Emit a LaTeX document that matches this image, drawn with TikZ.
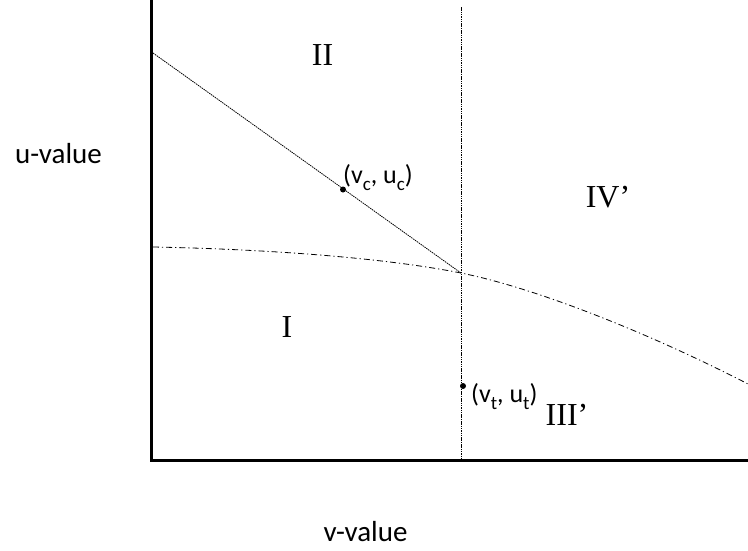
\documentclass[tikz,border=0pt]{standalone}
\usepackage{fontspec}
\setmainfont{Liberation Serif}
\newfontfamily\lblfont{Carlito}
\newcommand{\lsub}[1]{\raisebox{-0.28em}{\fontsize{19}{20}\selectfont #1}}
\begin{document}
\begin{tikzpicture}[x=1pt,y=-1pt,
  axisline/.style={line width=3pt, line join=miter},
  thinline/.style={line width=0.8pt, dash pattern=on 1.5pt off 0.8pt},
  dashdotline/.style={line width=0.8pt, dash pattern=on 6pt off 3pt on 1.2pt off 3pt},
  region/.style={font=\fontsize{32}{36}\selectfont, inner sep=0pt, anchor=base},
  axislabel/.style={font=\lblfont\fontsize{29}{32}\selectfont, inner sep=0pt, anchor=base},
  ptlabel/.style={font=\lblfont\fontsize{26}{30}\selectfont, inner sep=0pt, anchor=base west},
  dot/.style={circle, fill=black, inner sep=0pt, minimum size=6pt}]
\useasboundingbox (0,0) rectangle (748,550);
% axes
\coordinate (top) at (151.5,0);
\coordinate (origin) at (151.5,460.5);
\coordinate (right) at (748,460.5);
\draw[axisline] (top) -- (origin) -- (right);
% vertical dotted line
\coordinate (vtop) at (461,7);
\coordinate (vbot) at (461,460);
\draw[thinline] (vtop) -- (vbot);
% diagonal line
\coordinate (dstart) at (153,53);
\coordinate (cross) at (461,273);
\draw[thinline] (dstart) -- (cross);
% dash-dot curve
\coordinate (cstart) at (153,247);
\coordinate (cend) at (748,384);
\draw[dashdotline] (cstart) .. controls (260,249) and (380,257) .. (cross)
  .. controls (540,289) and (655,336) .. (cend);
% points
\node[dot] (pc) at (343,189.5) {};
\node[dot] (pt) at (463,386) {};
\node[ptlabel] (lc) at (343,183) {(v\lsub{c}, u\lsub{c})};
\node[ptlabel] (lt) at (471,402) {(v\lsub{t}, u\lsub{t})};
% regions
\node[region] (rII) at (322.5,65) {II};
\node[region] (rI) at (287,337) {I};
\node[region] (rIV) at (608,207) {IV’};
\node[region] (rIII) at (567,425) {III’};
% axis labels
\node[axislabel] (ul) at (58.5,163) {u-value};
\node[axislabel] (vl) at (365.5,541) {v-value};
\end{tikzpicture}
\end{document}
